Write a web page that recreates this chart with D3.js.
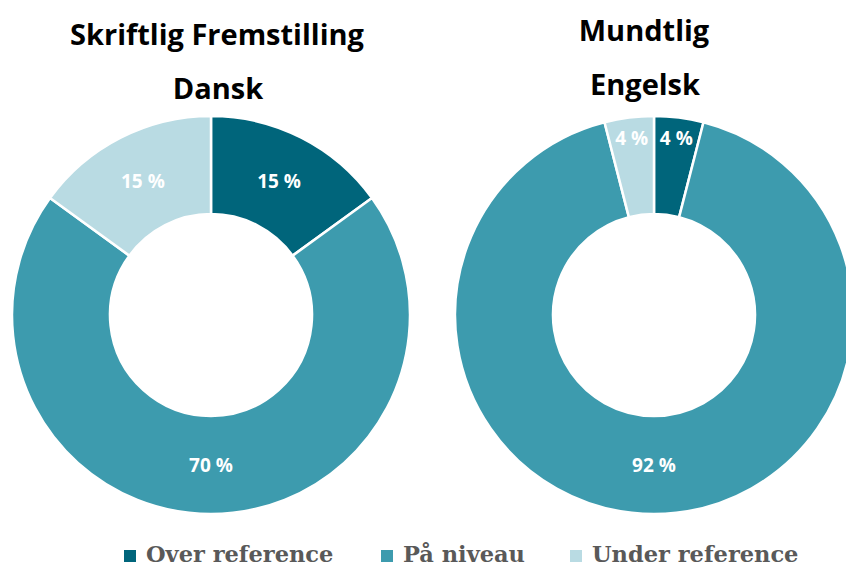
<!DOCTYPE html>
<html>
<head>
<meta charset="utf-8">
<script src="https://cdn.jsdelivr.net/npm/d3@7"></script>
<style>
  body { margin: 0; background: #fff; }
  .title { font-family: "Open Sans", sans-serif; font-weight: bold; font-size: 29px; fill: #000; }
  .lbl { font-family: "Open Sans", sans-serif; font-weight: bold; font-size: 19px; fill: #fff; }
  .legend text { font-family: "DejaVu Serif", serif; font-weight: bold; font-size: 22.5px; fill: #595959; }
</style>
</head>
<body>
<svg id="chart" width="846" height="568"></svg>
<script>
var categories = ['Over reference', 'På niveau', 'Under reference'];
var colors = ['#00657b', '#3d9bae', '#b9dbe3'];

var danskValues = [15, 70, 15];
var engelskValues = [4, 92, 4];

var charts = [
  { titles: ['Skriftlig Fremstilling', 'Dansk'], values: danskValues, cx: 211, titleX: 217, titleY: 45 },
  { titles: ['Mundtlig', 'Engelsk'], values: engelskValues, cx: 654, titleX: 644, titleY: 41 }
];

var svg = d3.select('#chart');
var outerR = 199, innerR = 101, cy = 315;

var pie = d3.pie().sort(null).value(function(d){ return d; });
var arc = d3.arc().innerRadius(innerR).outerRadius(outerR);

charts.forEach(function(c){
  // titles
  svg.append('text').attr('class', 'title')
    .attr('x', c.titleX).attr('y', c.titleY)
    .attr('text-anchor', 'middle').text(c.titles[0]);
  svg.append('text').attr('class', 'title')
    .attr('x', c.titleX + 1).attr('y', c.titleY + 54)
    .attr('text-anchor', 'middle').text(c.titles[1]);

  var g = svg.append('g').attr('transform', 'translate(' + c.cx + ',' + cy + ')');
  var arcs = pie(c.values);

  g.selectAll('path').data(arcs).enter().append('path')
    .attr('d', arc)
    .attr('fill', function(d, i){ return colors[i]; })
    .attr('stroke', '#fff')
    .attr('stroke-width', 2.5);

  // small slices get their labels pushed outward like in Excel
  g.selectAll('text').data(arcs).enter().append('text')
    .attr('class', 'lbl')
    .attr('text-anchor', 'middle')
    .attr('dy', '0.35em')
    .attr('transform', function(d){
      var r = (d.endAngle - d.startAngle) < 0.5 ? 178 : 150;
      var a = (d.startAngle + d.endAngle) / 2;
      return 'translate(' + (r * Math.sin(a)) + ',' + (-r * Math.cos(a)) + ')';
    })
    .text(function(d){ return d.data + ' %'; });
});

// legend
var legendX = [124, 381, 570];
var legend = svg.append('g').attr('class', 'legend');
categories.forEach(function(name, i){
  legend.append('rect')
    .attr('x', legendX[i]).attr('y', 550)
    .attr('width', 12).attr('height', 12)
    .attr('fill', colors[i]);
  legend.append('text')
    .attr('x', legendX[i] + 22).attr('y', 562)
    .text(name);
});
</script>
</body>
</html>
